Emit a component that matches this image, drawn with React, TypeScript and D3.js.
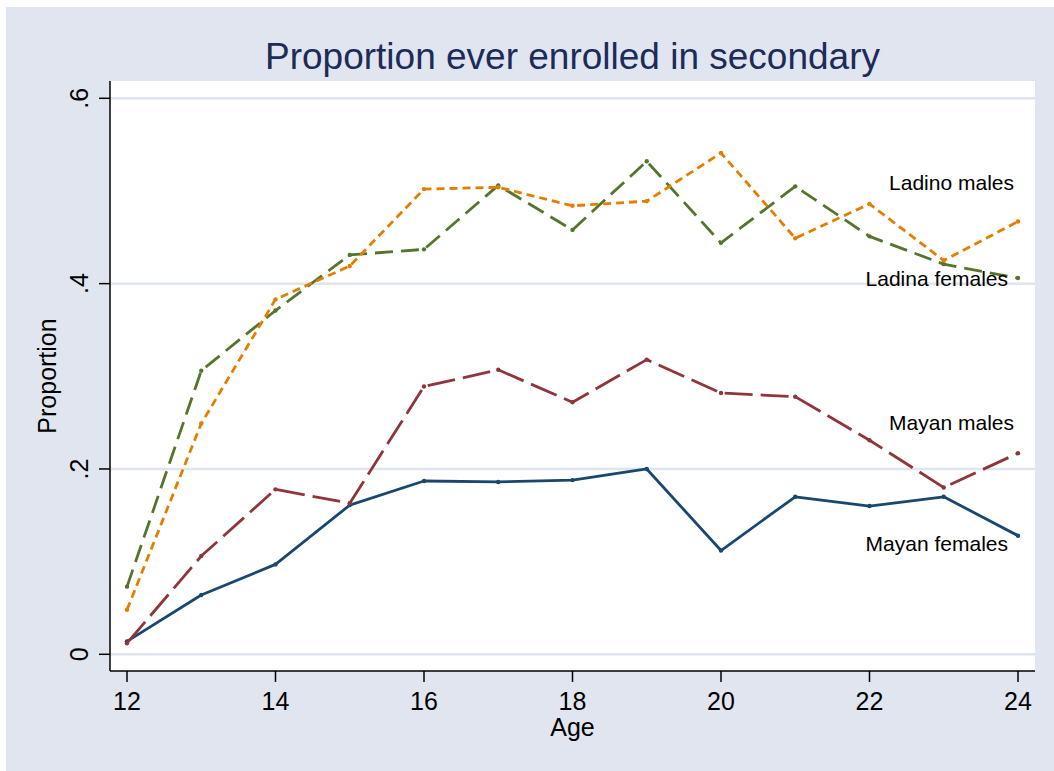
import React from "react";
import * as d3 from "d3";

const ages = [12, 13, 14, 15, 16, 17, 18, 19, 20, 21, 22, 23, 24];
const mayanFemales = [0.014, 0.064, 0.097, 0.161, 0.187, 0.186, 0.188, 0.2, 0.112, 0.17, 0.16, 0.17, 0.128];
const mayanMales = [0.012, 0.106, 0.178, 0.163, 0.289, 0.307, 0.272, 0.318, 0.282, 0.278, 0.231, 0.18, 0.217];
const ladinaFemales = [0.073, 0.306, 0.371, 0.431, 0.437, 0.506, 0.458, 0.532, 0.444, 0.505, 0.451, 0.421, 0.406];
const ladinoMales = [0.048, 0.249, 0.383, 0.419, 0.502, 0.504, 0.484, 0.489, 0.541, 0.449, 0.486, 0.425, 0.467];

const yTicks = [0, 0.2, 0.4, 0.6];
const yTickLabels = ["0", ".2", ".4", ".6"];
const xTicks = [12, 14, 16, 18, 20, 22, 24];

const labelNames = ["Ladino males", "Ladina females", "Mayan males", "Mayan females"];
const labelValues = [0.509, 0.406, 0.25, 0.12];

const series = [
  { name: "Mayan females", values: mayanFemales, color: "#1a476f", dash: "none" },
  { name: "Mayan males", values: mayanMales, color: "#90353b", dash: "28 8" },
  { name: "Ladina females", values: ladinaFemales, color: "#55752f", dash: "18 8" },
  { name: "Ladino males", values: ladinoMales, color: "#e37e00", dash: "8 5" },
];

const W = 1048;
const H = 764;
const plotL = 104;
const plotR = 1029;
const plotT = 74;
const plotB = 664;
const font = "'Liberation Sans', Arial, Helvetica, sans-serif";

export default function App() {
  const x = d3.scaleLinear().domain([12, 24]).range([121, 1012]);
  const y = d3.scaleLinear().domain([0, 0.6]).range([647.3, 91.3]);
  const line = d3
    .line<number>()
    .x((_, i) => x(ages[i]))
    .y((d) => y(d));

  const labelOffsets = [4, 10, 4, 10];

  return (
    <svg
      width={W}
      height={H}
      style={{ position: "absolute", left: 6, top: 7, display: "block" }}
      fontFamily={font}
    >
      <rect x={0} y={0} width={W} height={H} fill="#e0e5f0" />
      <rect x={plotL} y={plotT} width={plotR - plotL} height={plotB - plotT} fill="#ffffff" />
      {yTicks.map((t) => (
        <line key={"g" + t} x1={plotL} x2={plotR} y1={y(t)} y2={y(t)} stroke="#dfe4ef" strokeWidth={2.5} />
      ))}
      <text x={(plotL + plotR) / 2} y={62} textAnchor="middle" fontSize={37} fill="#1c2b58">
        Proportion ever enrolled in secondary
      </text>
      {series.map((s) => (
        <g key={s.name}>
          <path
            d={line(s.values) || ""}
            fill="none"
            stroke={s.color}
            strokeWidth={2.8}
            strokeDasharray={s.dash}
            strokeLinejoin="round"
          />
          {s.values.map((v, i) => (
            <circle key={i} cx={x(ages[i])} cy={y(v)} r={2.2} fill={s.color} />
          ))}
        </g>
      ))}
      {labelNames.map((n, i) => (
        <text
          key={n}
          x={x(24) - labelOffsets[i]}
          y={y(labelValues[i])}
          textAnchor="end"
          dominantBaseline="central"
          fontSize={21}
          fill="#000"
        >
          {n}
        </text>
      ))}
      <line x1={plotL} x2={plotL} y1={plotT} y2={plotB} stroke="#000" strokeWidth={1.5} />
      <line x1={plotL} x2={plotR} y1={plotB} y2={plotB} stroke="#000" strokeWidth={1.5} />
      {yTicks.map((t, i) => (
        <g key={"yt" + t}>
          <line x1={plotL - 11} x2={plotL} y1={y(t)} y2={y(t)} stroke="#000" strokeWidth={1.5} />
          <text
            transform={`translate(${82},${y(t)}) rotate(-90)`}
            textAnchor="middle"
            fontSize={25}
            fill="#000"
          >
            {yTickLabels[i]}
          </text>
        </g>
      ))}
      {xTicks.map((t) => (
        <g key={"xt" + t}>
          <line x1={x(t)} x2={x(t)} y1={plotB} y2={plotB + 11} stroke="#000" strokeWidth={1.5} />
          <text x={x(t)} y={703} textAnchor="middle" fontSize={25} fill="#000">
            {t}
          </text>
        </g>
      ))}
      <text x={(plotL + plotR) / 2} y={729} textAnchor="middle" fontSize={25} fill="#000">
        Age
      </text>
      <text
        transform={`translate(${50},${(plotT + plotB) / 2}) rotate(-90)`}
        textAnchor="middle"
        fontSize={25}
        fill="#000"
      >
        Proportion
      </text>
    </svg>
  );
}
